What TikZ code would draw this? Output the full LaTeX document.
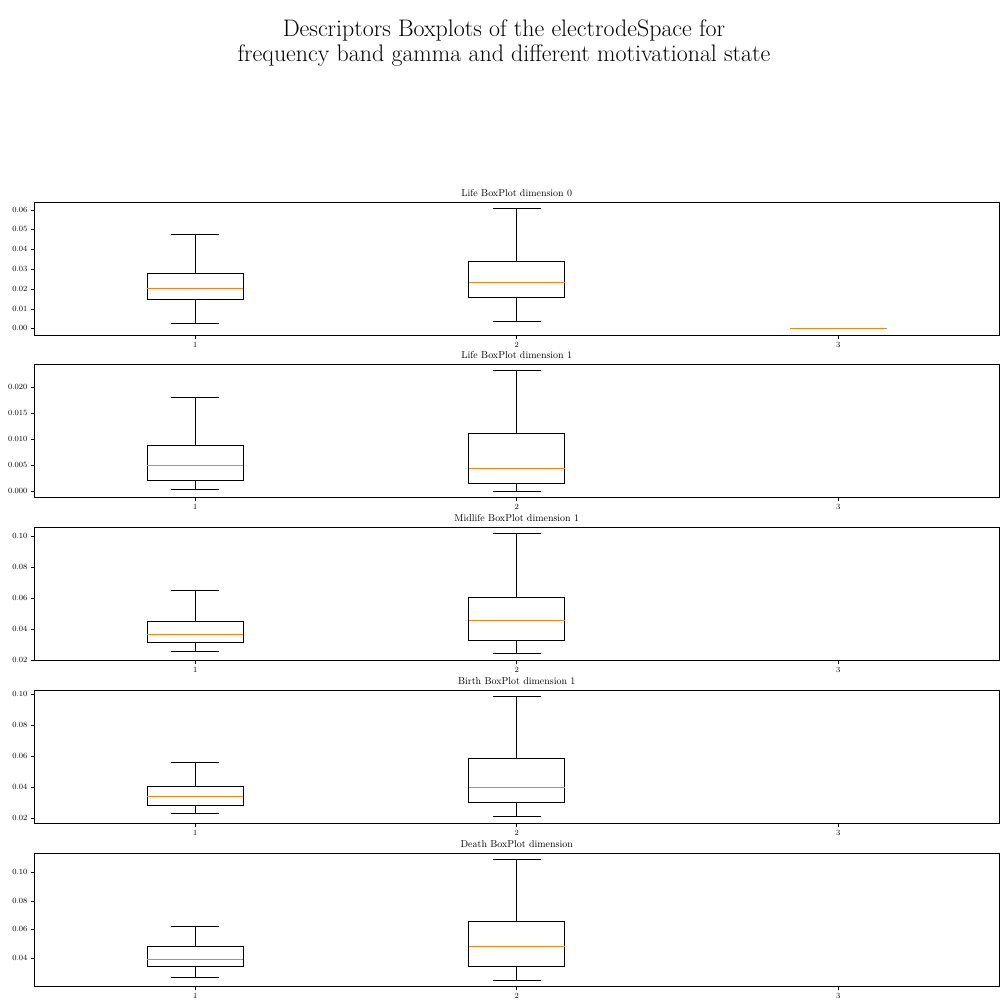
\documentclass[tikz,border=0pt]{standalone}
\usepackage{tikz}
\definecolor{medc}{HTML}{FF7F0E}
\tikzset{
 spine/.style={draw=black, line width=0.8bp},
 boxln/.style={draw=black, line width=1bp},
 medln/.style={draw=medc, line width=1bp},
 tickln/.style={draw=black, line width=0.8bp},
 ticklab/.style={font=\fontsize{8}{9.6}\selectfont, inner sep=0pt},
 ptitle/.style={font=\fontsize{10}{12}\selectfont, inner sep=0pt, anchor=base},
 suptitle/.style={font=\fontsize{24}{25.7}\selectfont, inner sep=0pt, align=center, anchor=north},
}
\newcommand\AxL{34.5}
\newcommand\AxR{999}
\newcommand\Ypx[2]{\pgfmathsetmacro#1{\pT+(\pH-(#2))/(\pH-\pL)*(\pB-\pT)}}
\newcommand\setpanel[5]{\def\pT{#1}\pgfmathsetmacro\pB{#1+132.7}\def\pL{#2}\def\pH{#3}%
 \draw[spine] (\AxL,\pT) rectangle (\AxR,\pB);
 \node[ptitle] (#4) at (516.75,\pT-6) {#5};
 \foreach \xx/\lab in {195.25/1,516.75/2,838.25/3}{
   \draw[tickln] (\xx,\pB) -- (\xx,\pB+3.5);
   \node[ticklab, anchor=north] (#4x\lab) at (\xx,\pB+6.5) {\lab};
 }}
\newcommand\ytk[3]{\Ypx\tkY{#2}%
 \draw[tickln] (\AxL,\tkY) -- (\AxL-3.5,\tkY);
 \node[ticklab, anchor=mid east] (#1) at (\AxL-7,\tkY) {#3};}
\newcommand\onebox[6]{%
 \Ypx\bxA{#2}\Ypx\bxB{#3}\Ypx\bxC{#4}\Ypx\bxD{#5}\Ypx\bxE{#6}%
 \draw[boxln] (#1-48.2,\bxB) rectangle (#1+48.2,\bxD);
 \draw[boxln] (#1,\bxB) -- (#1,\bxA) (#1-24.1,\bxA) -- (#1+24.1,\bxA);
 \draw[boxln] (#1,\bxD) -- (#1,\bxE) (#1-24.1,\bxE) -- (#1+24.1,\bxE);
 \draw[medln] (#1-48.2,\bxC) -- (#1+48.2,\bxC);}
\begin{document}
\begin{tikzpicture}[x=1bp,y=-1bp]
\fill[white] (0,0) rectangle (1008,1008);
\useasboundingbox (0,0) rectangle (1008,1008);
\node[suptitle] (title) at (504,19.3) {Descriptors Boxplots of the electrodeSpace for\\frequency band gamma and different motivational state};

% Panel 1
\setpanel{202.3}{-0.0032}{0.0639}{pa}{Life BoxPlot dimension 0}
\ytk{pay0}{0.00}{0.00}\ytk{pay1}{0.01}{0.01}\ytk{pay2}{0.02}{0.02}\ytk{pay3}{0.03}{0.03}
\ytk{pay4}{0.04}{0.04}\ytk{pay5}{0.05}{0.05}\ytk{pay6}{0.06}{0.06}
\onebox{195.25}{0.0027}{0.0148}{0.0204}{0.0278}{0.0477}
\onebox{516.75}{0.0037}{0.0159}{0.0234}{0.0341}{0.0607}
\onebox{838.25}{0}{0}{0}{0}{0}

% Panel 2
\setpanel{364.3}{-0.00102}{0.0244}{pb}{Life BoxPlot dimension 1}
\ytk{pby0}{0.000}{0.000}\ytk{pby1}{0.005}{0.005}\ytk{pby2}{0.010}{0.010}
\ytk{pby3}{0.015}{0.015}\ytk{pby4}{0.020}{0.020}
\onebox{195.25}{0.00045}{0.00217}{0.00505}{0.00882}{0.01802}
\onebox{516.75}{0.00006}{0.0016}{0.00447}{0.01118}{0.02319}

% Panel 3
\setpanel{527.3}{0.02}{0.1058}{pc}{Midlife BoxPlot dimension 1}
\ytk{pcy0}{0.02}{0.02}\ytk{pcy1}{0.04}{0.04}\ytk{pcy2}{0.06}{0.06}
\ytk{pcy3}{0.08}{0.08}\ytk{pcy4}{0.10}{0.10}
\onebox{195.25}{0.0252}{0.0310}{0.0368}{0.0452}{0.0652}
\onebox{516.75}{0.0239}{0.0323}{0.0454}{0.0606}{0.1017}

% Panel 4
\setpanel{690.3}{0.0168}{0.1024}{pd}{Birth BoxPlot dimension 1}
\ytk{pdy0}{0.02}{0.02}\ytk{pdy1}{0.04}{0.04}\ytk{pdy2}{0.06}{0.06}
\ytk{pdy3}{0.08}{0.08}\ytk{pdy4}{0.10}{0.10}
\onebox{195.25}{0.0232}{0.0284}{0.0342}{0.0404}{0.0560}
\onebox{516.75}{0.0209}{0.0303}{0.0399}{0.0584}{0.0985}

% Panel 5
\setpanel{853.3}{0.0207}{0.1133}{pe}{Death BoxPlot dimension}
\ytk{pey1}{0.04}{0.04}\ytk{pey2}{0.06}{0.06}
\ytk{pey3}{0.08}{0.08}\ytk{pey4}{0.10}{0.10}
\onebox{195.25}{0.0270}{0.0340}{0.0393}{0.0481}{0.0623}
\onebox{516.75}{0.0249}{0.0340}{0.0484}{0.0658}{0.1091}
\end{tikzpicture}
\end{document}
